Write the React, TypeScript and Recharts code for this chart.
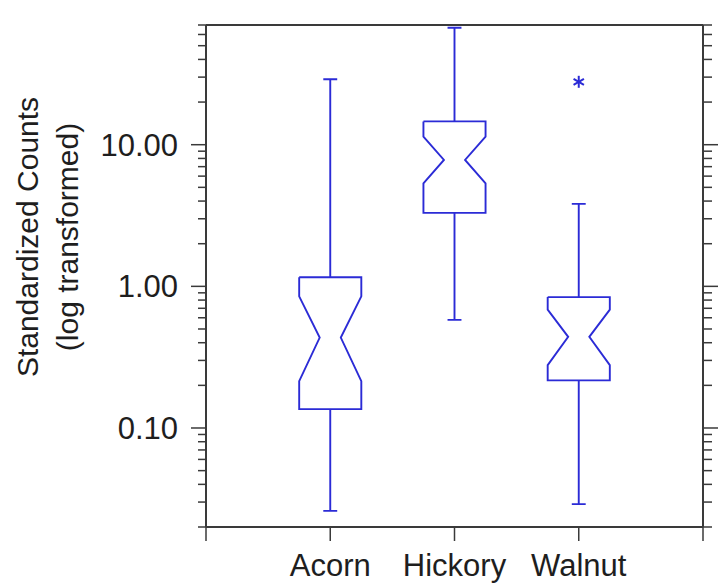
import { ComposedChart, XAxis, YAxis, Scatter, Label } from "recharts";

// box plot statistics
const categories = ["Acorn", "Hickory", "Walnut"];
const positions = [1, 2, 3];
const whiskerLow = [0.026, 0.58, 0.029];
const q1 = [0.136, 3.3, 0.217];
const notchLow = [0.214, 5.34, 0.278];
const median = [0.435, 7.8, 0.44];
const notchHigh = [0.85, 11.4, 0.685];
const q3 = [1.16, 14.6, 0.84];
const whiskerHigh = [29, 67, 3.82];
const outlierPosition = [3];
const outlierValue = [27.8];

// axis ticks
const xTicks = [0, 1, 2, 3, 4];
const majorTicks = [0.1, 1, 10];
const minorTicks = [
  0.02, 0.03, 0.04, 0.05, 0.06, 0.07, 0.08, 0.09,
  0.2, 0.3, 0.4, 0.5, 0.6, 0.7, 0.8, 0.9,
  2, 3, 4, 5, 6, 7, 8, 9,
  20, 30, 40, 50, 60, 70,
];
const allYTicks = [...majorTicks, ...minorTicks].sort((a, b) => a - b);

const BLUE = "#2b2bd6";
const AXIS = "#3a3a3a";
const TEXT = "#1e1e1e";
const FONT = "Arial, 'Liberation Sans', Helvetica, sans-serif";

const BOX_HALF = 0.25;
const NOTCH_HALF = 0.085;
const CAP_HALF = 0.056;

const outlines = positions.map((x, i) => [
  { x: x - BOX_HALF, y: q3[i] },
  { x: x + BOX_HALF, y: q3[i] },
  { x: x + BOX_HALF, y: notchHigh[i] },
  { x: x + NOTCH_HALF, y: median[i] },
  { x: x + BOX_HALF, y: notchLow[i] },
  { x: x + BOX_HALF, y: q1[i] },
  { x: x - BOX_HALF, y: q1[i] },
  { x: x - BOX_HALF, y: notchLow[i] },
  { x: x - NOTCH_HALF, y: median[i] },
  { x: x - BOX_HALF, y: notchHigh[i] },
  { x: x - BOX_HALF, y: q3[i] },
]);

const upperWhiskers = positions.map((x, i) => [
  { x, y: q3[i] },
  { x, y: whiskerHigh[i] },
  { x: x - CAP_HALF, y: whiskerHigh[i] },
  { x: x + CAP_HALF, y: whiskerHigh[i] },
]);

const lowerWhiskers = positions.map((x, i) => [
  { x, y: q1[i] },
  { x, y: whiskerLow[i] },
  { x: x - CAP_HALF, y: whiskerLow[i] },
  { x: x + CAP_HALF, y: whiskerLow[i] },
]);

const outliers = outlierPosition.map((x, i) => ({ x, y: outlierValue[i] }));

const NoPoint = () => <g />;

const Asterisk = (props: any) => {
  const { cx, cy } = props;
  const r = 6;
  return (
    <g stroke={BLUE} strokeWidth={2}>
      <line x1={cx} y1={cy - r} x2={cx} y2={cy + r} />
      <line x1={cx - r * 0.866} y1={cy - r * 0.5} x2={cx + r * 0.866} y2={cy + r * 0.5} />
      <line x1={cx - r * 0.866} y1={cy + r * 0.5} x2={cx + r * 0.866} y2={cy - r * 0.5} />
    </g>
  );
};

const LeftTick = (props: any) => {
  const { x, y, payload } = props;
  const major = majorTicks.includes(payload.value);
  return (
    <g>
      <line x1={x - (major ? 15 : 8)} x2={x} y1={y} y2={y} stroke={AXIS} strokeWidth={1.5} />
      {major && (
        <text x={x - 28} y={y} dy="0.355em" textAnchor="end" fontSize={31} fill={TEXT} fontFamily={FONT}>
          {payload.value.toFixed(2)}
        </text>
      )}
    </g>
  );
};

const RightTick = (props: any) => {
  const { x, y, payload } = props;
  const major = majorTicks.includes(payload.value);
  return <line x1={x} x2={x + (major ? 15 : 9)} y1={y} y2={y} stroke={AXIS} strokeWidth={1.5} />;
};

const TitleLabel = () => (
  <g fontFamily={FONT} fontSize={30} fill={TEXT}>
    <text x={38} y={237} transform="rotate(-90 38 237)" textAnchor="middle">
      Standardized Counts
    </text>
    <text x={78} y={237} transform="rotate(-90 78 237)" textAnchor="middle">
      (log transformed)
    </text>
  </g>
);

export default function App() {
  return (
    <div style={{ position: "absolute", left: 0, top: 0, background: "#fff", fontFamily: FONT }}>
      <ComposedChart width={718} height={585} margin={{ top: 5, right: 3, bottom: 0, left: 0 }}>
        <XAxis
          xAxisId="bottom"
          dataKey="x"
          type="number"
          domain={[0, 4]}
          allowDataOverflow
          ticks={xTicks}
          interval={0}
          height={58}
          tickSize={14}
          tickMargin={13}
          tickFormatter={(v: number) => categories[positions.indexOf(v)] ?? ""}
          tick={{ fill: TEXT, fontSize: 31, fontFamily: FONT }}
          tickLine={{ stroke: AXIS, strokeWidth: 1.5 }}
          axisLine={{ stroke: AXIS, strokeWidth: 2 }}
        />
        <XAxis
          xAxisId="top"
          orientation="top"
          type="number"
          domain={[0, 4]}
          allowDataOverflow
          ticks={xTicks}
          interval={0}
          height={20}
          tickSize={15}
          tickFormatter={() => ""}
          tickLine={{ stroke: AXIS, strokeWidth: 1.5 }}
          axisLine={{ stroke: AXIS, strokeWidth: 2 }}
        />
        <YAxis
          yAxisId="left"
          dataKey="y"
          type="number"
          scale="log"
          domain={[0.02, 70]}
          allowDataOverflow
          ticks={allYTicks}
          interval={0}
          width={206}
          tickSize={0}
          tickMargin={0}
          tickLine={false}
          tick={LeftTick}
          axisLine={{ stroke: AXIS, strokeWidth: 2 }}
        >
          <Label content={TitleLabel} />
        </YAxis>
        <YAxis
          yAxisId="right"
          orientation="right"
          type="number"
          scale="log"
          domain={[0.02, 70]}
          allowDataOverflow
          ticks={allYTicks}
          interval={0}
          width={12}
          tickSize={0}
          tickMargin={0}
          tickLine={false}
          tick={RightTick}
          axisLine={{ stroke: AXIS, strokeWidth: 2 }}
        />
        {outlines.map((pts, i) => (
          <Scatter
            key={`box-${i}`}
            xAxisId="bottom"
            yAxisId="left"
            data={pts}
            line={{ stroke: BLUE, strokeWidth: 1.9 }}
            lineJointType="linear"
            shape={NoPoint}
            isAnimationActive={false}
          />
        ))}
        {upperWhiskers.map((pts, i) => (
          <Scatter
            key={`up-${i}`}
            xAxisId="bottom"
            yAxisId="left"
            data={pts}
            line={{ stroke: BLUE, strokeWidth: 1.9 }}
            lineJointType="linear"
            shape={NoPoint}
            isAnimationActive={false}
          />
        ))}
        {lowerWhiskers.map((pts, i) => (
          <Scatter
            key={`low-${i}`}
            xAxisId="bottom"
            yAxisId="left"
            data={pts}
            line={{ stroke: BLUE, strokeWidth: 1.9 }}
            lineJointType="linear"
            shape={NoPoint}
            isAnimationActive={false}
          />
        ))}
        <Scatter
          xAxisId="bottom"
          yAxisId="left"
          data={outliers}
          shape={Asterisk}
          isAnimationActive={false}
        />
      </ComposedChart>
    </div>
  );
}
